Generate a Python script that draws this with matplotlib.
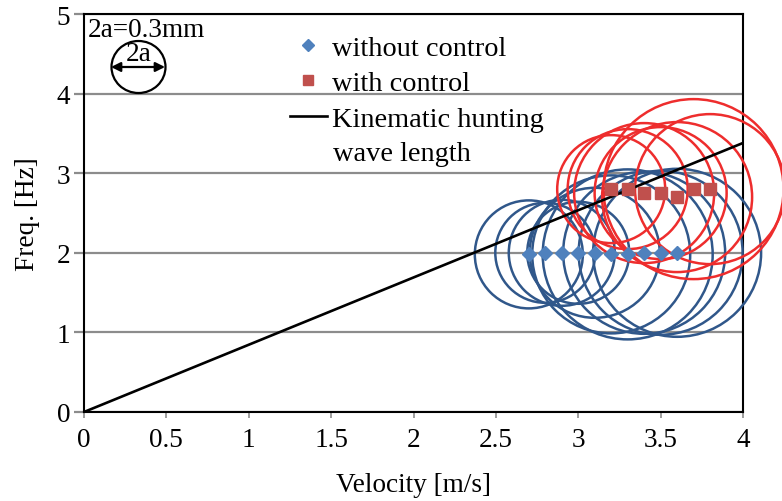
import numpy as np
import matplotlib
matplotlib.use("Agg")
from matplotlib import pyplot as plt
from matplotlib.patches import Ellipse

plt.rcParams['font.family'] = ['Liberation Serif', 'DejaVu Serif']

# data
v_without = [2.7, 2.8, 2.9, 3.0, 3.1, 3.2, 3.3, 3.4, 3.5, 3.6]
f_without = [1.98, 2.0, 2.0, 2.0, 2.0, 1.98, 1.98, 2.0, 2.0, 2.0]
amp_without = [0.54, 0.50, 0.53, 0.51, 0.65, 0.79, 0.85, 0.81, 0.82, 0.84]

v_with = [3.2, 3.3, 3.4, 3.5, 3.6, 3.7, 3.8]
f_with = [2.8, 2.8, 2.75, 2.75, 2.7, 2.8, 2.8]
amp_with = [0.54, 0.60, 0.70, 0.66, 0.75, 0.90, 0.75]

v_line = [0, 4]
f_line = [0, 3.38]

xticks = [0, 0.5, 1, 1.5, 2, 2.5, 3, 3.5, 4]
xticklabels = ['0', '0.5', '1', '1.5', '2', '2.5', '3', '3.5', '4']
yticks = [0, 1, 2, 3, 4, 5]

W, H = 782, 502
fig = plt.figure(figsize=(W/100, H/100), dpi=100)
ax = fig.add_axes([84/W, 1-413/H, (743-84)/W, (413-15)/H])

blue_ring = '#30578A'
red_ring = '#EE2D2D'
fs = 19.6

def ring_size(a):
    # bubble radius in pixels -> scatter area in points^2
    r = np.array(a) * 100
    return (2 * r * 0.72) ** 2

ax.scatter(v_without, f_without, s=ring_size(amp_without), facecolors='none',
           edgecolors=blue_ring, linewidths=1.8, clip_on=False, zorder=3)
ax.scatter(v_with, f_with, s=ring_size(amp_with), facecolors='none',
           edgecolors=red_ring, linewidths=1.8, clip_on=False, zorder=3)

p1, = ax.plot(v_without, f_without, 'D', color='#4F81BD', markersize=7,
              linestyle='none', zorder=5)
p2, = ax.plot(v_with, f_with, 's', color='#C0504D', markersize=8.5,
              linestyle='none', zorder=5)
p3, = ax.plot(v_line, f_line, color='black', linewidth=1.9, zorder=4)

ax.set_xlim(0, 4)
ax.set_ylim(0, 5)
ax.set_xticks(xticks)
ax.set_xticklabels(xticklabels)
ax.set_yticks(yticks)
ax.grid(axis='y', color='#8C8C8C', linewidth=1.6)
ax.set_axisbelow(True)
for sp in ax.spines.values():
    sp.set_linewidth(1.5)
    sp.set_color('black')
ax.tick_params(axis='x', direction='out', length=4, width=1.2, color='#8C8C8C',
               labelsize=fs, pad=7)
ax.tick_params(axis='y', direction='out', length=7, width=1.6, color='#8C8C8C',
               labelsize=fs, pad=3)

ax.set_xlabel('Velocity [m/s]', fontsize=fs, labelpad=14)
ax.set_ylabel('Freq. [Hz]', fontsize=fs, labelpad=12)

leg = ax.legend([p1, p2, p3], ['without control', 'with control', 'Kinematic hunting'],
                loc='upper left', bbox_to_anchor=(290/W, 1-36/H),
                bbox_transform=fig.transFigure, frameon=False, fontsize=20.4,
                handlelength=1.3, handletextpad=0.2, labelspacing=0.34,
                borderpad=0, borderaxespad=0, markerscale=0.85)
fig.text(333/W, 1-155/H, 'wave length', fontsize=20.4, va='center', ha='left')

# size sketch in the top-left corner
fig.text(88/W, 1-37/H, '2a=0.3mm', fontsize=fs, va='baseline', ha='left')
fig.patches.append(Ellipse((138.5/W, 1-68/H), 54/W, 52/H, transform=fig.transFigure,
                           fill=False, edgecolor='black', linewidth=1.6))
fig.text(138.5/W, 1-61/H, '2a', fontsize=fs, va='baseline', ha='center')
ax.annotate('', xy=(165/W, 1-68/H), xytext=(111/W, 1-68/H),
            xycoords='figure fraction', textcoords='figure fraction',
            arrowprops=dict(arrowstyle='<|-|>', color='black', lw=1.6,
                            mutation_scale=14, shrinkA=0, shrinkB=0))

fig.savefig('out.png', dpi=100)
